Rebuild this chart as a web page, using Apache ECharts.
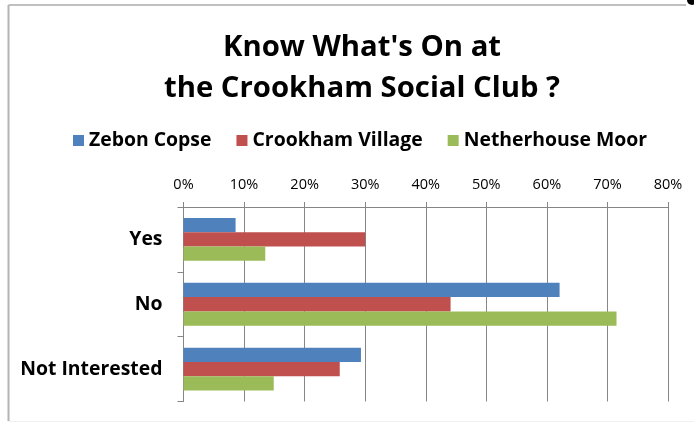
<!DOCTYPE html>
<html><head><meta charset="utf-8">
<script src="https://cdn.jsdelivr.net/npm/echarts@6/dist/echarts.min.js"></script>
<style>html,body{margin:0;padding:0;background:#fff}#c{width:694px;height:422px}</style>
</head><body><div id="c"></div>
<script>
var categories = ['Yes', 'No', 'Not Interested'];
var seriesNames = ['Zebon Copse', 'Crookham Village', 'Netherhouse Moor'];
var zebonCopse = [8.6, 62.1, 29.3];
var crookhamVillage = [30.0, 44.1, 25.8];
var netherhouseMoor = [13.5, 71.5, 14.9];
var colors = ['#4F81BD', '#C0504D', '#9BBB59'];
var titleLines = ["Know What's On at", "the Crookham Social Club ?"];

var font = '"Open Sans"';
var chart = echarts.init(document.getElementById('c'));
var values = [zebonCopse, crookhamVillage, netherhouseMoor];
chart.setOption({
  animation: false,
  title: {
    text: titleLines.join('\n'),
    left: 357, textAlign: 'center', top: 22,
    textStyle: { fontFamily: font, fontWeight: 'bold', fontSize: 29.3, lineHeight: 41, color: '#000' }
  },
  legend: {
    top: 126, left: 68, itemGap: 25,
    itemWidth: 11, itemHeight: 11, icon: 'rect',
    textStyle: { fontFamily: font, fontWeight: 'bold', fontSize: 19.4, color: '#000' },
    data: seriesNames
  },
  grid: { left: 183.5, right: 26, top: 207, bottom: 20.5, containLabel: false },
  xAxis: {
    type: 'value', position: 'top', min: 0, max: 80, interval: 10,
    axisLine: { show: true, lineStyle: { color: '#868686' } },
    axisTick: { show: true, length: 5, lineStyle: { color: '#868686' } },
    axisLabel: { formatter: '{value}%', fontFamily: font, fontSize: 14.5, color: '#000', margin: 15 },
    splitLine: { show: true, lineStyle: { color: '#868686' } }
  },
  yAxis: {
    type: 'category', inverse: true, data: categories,
    axisLine: { show: true, lineStyle: { color: '#868686' } },
    axisTick: { show: true, length: 6, lineStyle: { color: '#868686' } },
    axisLabel: { fontFamily: font, fontWeight: 'bold', fontSize: 19.4, color: '#000', margin: 21 }
  },
  series: seriesNames.map(function (n, i) {
    return {
      name: n, type: 'bar', data: values[i],
      barGap: '0%', barCategoryGap: '34%',
      itemStyle: { color: colors[i] }
    };
  }),
  graphic: [
    { type: 'line', shape: { x1: 8.5, y1: 5, x2: 686, y2: 5 }, style: { stroke: '#c0c0c0', lineWidth: 2 } },
    { type: 'line', shape: { x1: 8.5, y1: 5, x2: 8.5, y2: 421 }, style: { stroke: '#b4b4b4', lineWidth: 2 } },
    { type: 'line', shape: { x1: 8.5, y1: 421.5, x2: 694, y2: 421.5 }, style: { stroke: '#f0f0f0', lineWidth: 1 } },
    { type: 'circle', shape: { cx: 692, cy: 0, r: 5 }, style: { fill: '#000' } }
  ]
});
</script></body></html>
